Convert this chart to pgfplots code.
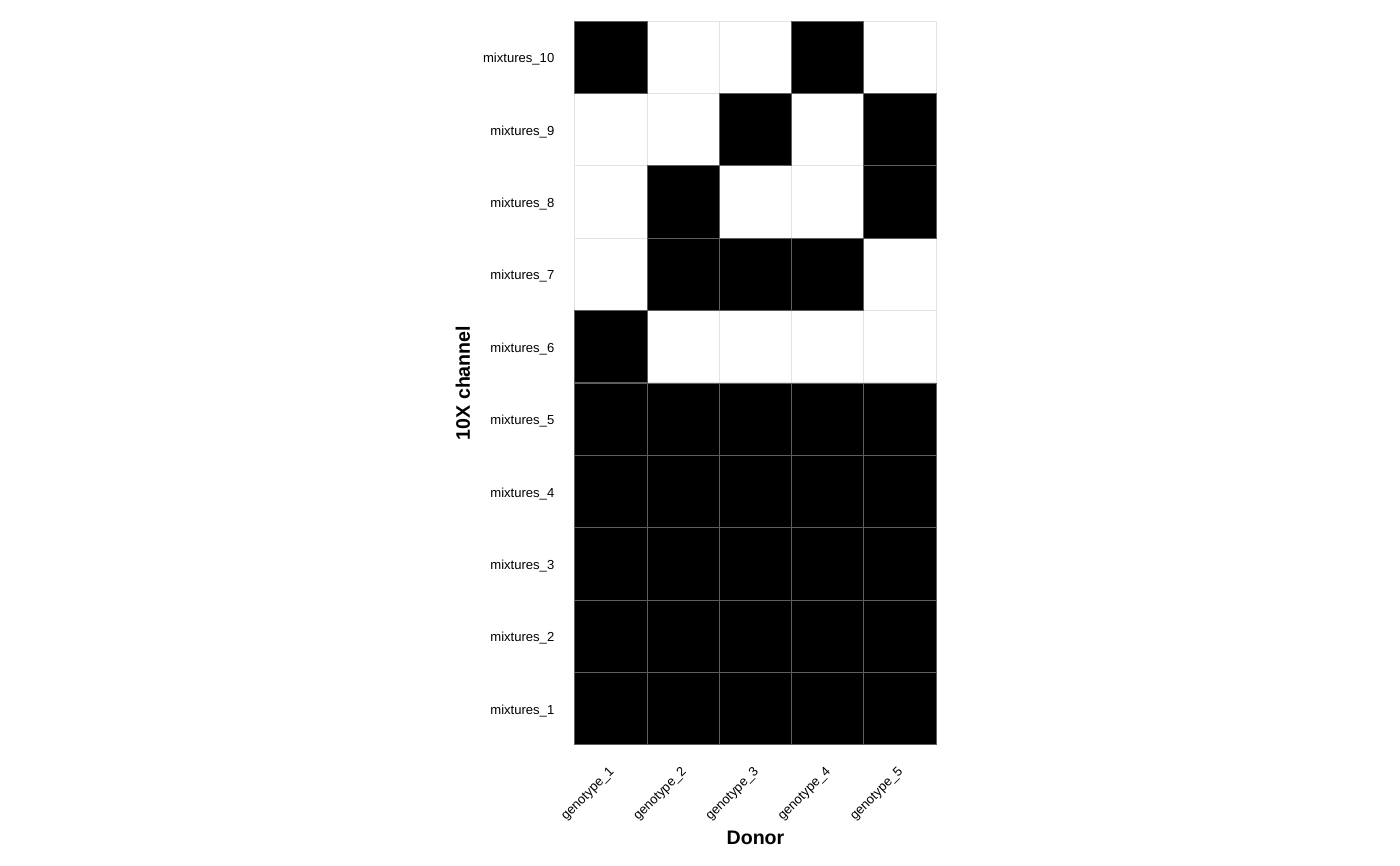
\documentclass[border=0pt]{standalone}
\usepackage{pgfplots}
\pgfplotsset{compat=1.18}
\usepackage{fontspec}
\setmainfont{Liberation Sans}
\definecolor{edgedark}{HTML}{5E5E5E}
\definecolor{edgelight}{HTML}{E3E3E3}

\begin{document}
\begin{tikzpicture}
% page size 1400x865 px at 0.75pt per px
\path[use as bounding box] (-431.25pt,-90pt) rectangle ++(1050pt,648.75pt);
\begin{axis}[
    scale only axis,
    width=270.75pt, height=543pt,
    xmin=0.5, xmax=5.5,
    ymin=0.5, ymax=10.5,
    axis line style={draw=none},
    major tick length=0pt,
    xtick={1,2,3,4,5},
    xticklabels={genotype\_1,genotype\_2,genotype\_3,genotype\_4,genotype\_5},
    ytick={1,...,10},
    yticklabels={mixtures\_1,mixtures\_2,mixtures\_3,mixtures\_4,mixtures\_5,
                 mixtures\_6,mixtures\_7,mixtures\_8,mixtures\_9,mixtures\_10},
    yticklabel style={font=\fontsize{9.8}{11}\selectfont, xshift=-12pt, yshift=-1.5pt},
    % shifts act in the rotated frame
    xticklabel style={font=\fontsize{9.8}{11}\selectfont, rotate=45, anchor=east, xshift=-9.2pt, yshift=-14pt},
    xlabel={Donor},
    ylabel={10X channel},
    xlabel style={font=\fontsize{14.7}{16}\selectfont\bfseries, at={(axis description cs:0.5,-0.1285)}, anchor=center},
    ylabel style={font=\fontsize{14.7}{16}\selectfont\bfseries, at={(axis description cs:-0.3103,0.5)}, anchor=center},
]

% value 0 cells
\addplot[only marks, mark=square*, mark size=27.1pt,
    mark options={fill=white, draw=edgelight, line width=0.75pt}] coordinates {
    (2,10) (3,10) (5,10)
    (1,9) (2,9) (4,9)
    (1,8) (3,8) (4,8)
    (1,7) (5,7)
    (2,6) (3,6) (4,6) (5,6)
};

% value 1 cells
\addplot[only marks, mark=square*, mark size=27.1pt,
    mark options={fill=black, draw=edgedark, line width=0.75pt}] coordinates {
    (1,10) (4,10)
    (3,9) (5,9)
    (2,8) (5,8)
    (2,7) (3,7) (4,7)
    (1,6)
    (1,5) (2,5) (3,5) (4,5) (5,5)
    (1,4) (2,4) (3,4) (4,4) (5,4)
    (1,3) (2,3) (3,3) (4,3) (5,3)
    (1,2) (2,2) (3,2) (4,2) (5,2)
    (1,1) (2,1) (3,1) (4,1) (5,1)
};

\end{axis}
\end{tikzpicture}
\end{document}
